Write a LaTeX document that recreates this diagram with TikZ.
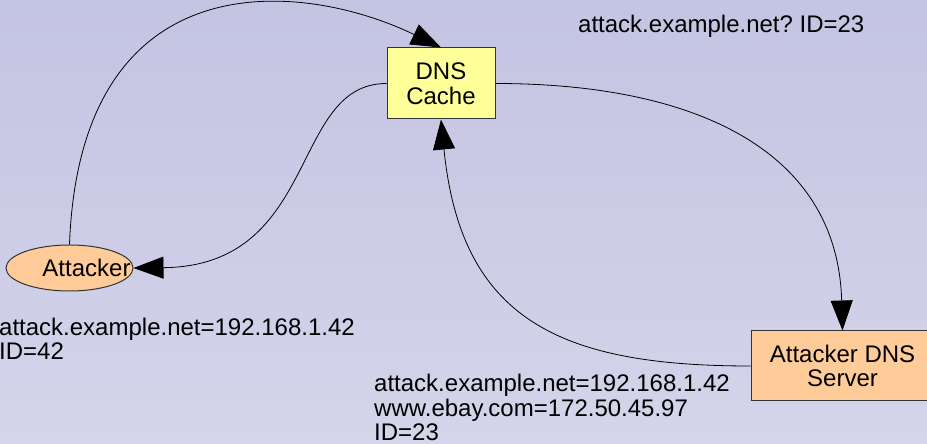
\documentclass[tikz,border=0pt]{standalone}
\usepackage{fontspec}
\setmainfont{Liberation Sans}
\usetikzlibrary{shapes.geometric,arrows.meta}
\definecolor{bgtop}{RGB}{196,196,227}
\definecolor{bgbot}{RGB}{212,212,234}
\definecolor{cachefill}{RGB}{255,255,153}
\definecolor{atkfill}{RGB}{255,204,153}
\tikzset{
  box/.style={draw=black!80,line width=1pt,inner sep=0pt,align=center},
  msg/.style={draw=black,line width=0.8pt,-{Triangle[length=30pt,width=22pt]}},
  note/.style={inner sep=0pt,align=left}
}
\frenchspacing
\begin{document}
\begin{tikzpicture}[x=1pt,y=1pt,font=\fontsize{24}{24.5}\selectfont]
%background
\useasboundingbox (0,0) rectangle (927,444);
\shade[top color=bgtop,bottom color=bgbot] (0,0) rectangle (927,444);
%hosts
\node[box,fill=cachefill,minimum width=108pt,minimum height=71pt] (cache) at (441,360.5) {DNS\\Cache};
\node[box,ellipse,fill=atkfill,minimum width=127pt,minimum height=46pt,label={[xshift=17pt]center:Attacker}] (att) at (69.5,176) {};
\node[box,fill=atkfill,minimum width=183pt,minimum height=70pt] (srv) at (842.5,78) {Attacker DNS\\Server};
%packets
\node[note,anchor=base west] (query) at (578,411.3) {attack.example.net? ID=23};
\node[note,anchor=north west] (spoof) at (-1,126.5) {attack.example.net=192.168.1.42\\ID=42};
\node[note,anchor=north west] (reply) at (374,69.8) {attack.example.net=192.168.1.42\\www.ebay.com=172.50.45.97\\ID=23};
%arrows
\draw[msg] (att.north) .. controls +(10.5,285) and +(-141,68) .. (cache.north);
\draw[msg] (cache.west) .. controls +(-97,0) and +(187,2) .. (att.east);
\draw[msg] (cache.east) .. controls +(200,0) and +(-5,180) .. (srv.north);
\draw[msg] (srv.west) .. controls +(-191,0) and +(20,-200) .. (cache.south);
\end{tikzpicture}
\end{document}
